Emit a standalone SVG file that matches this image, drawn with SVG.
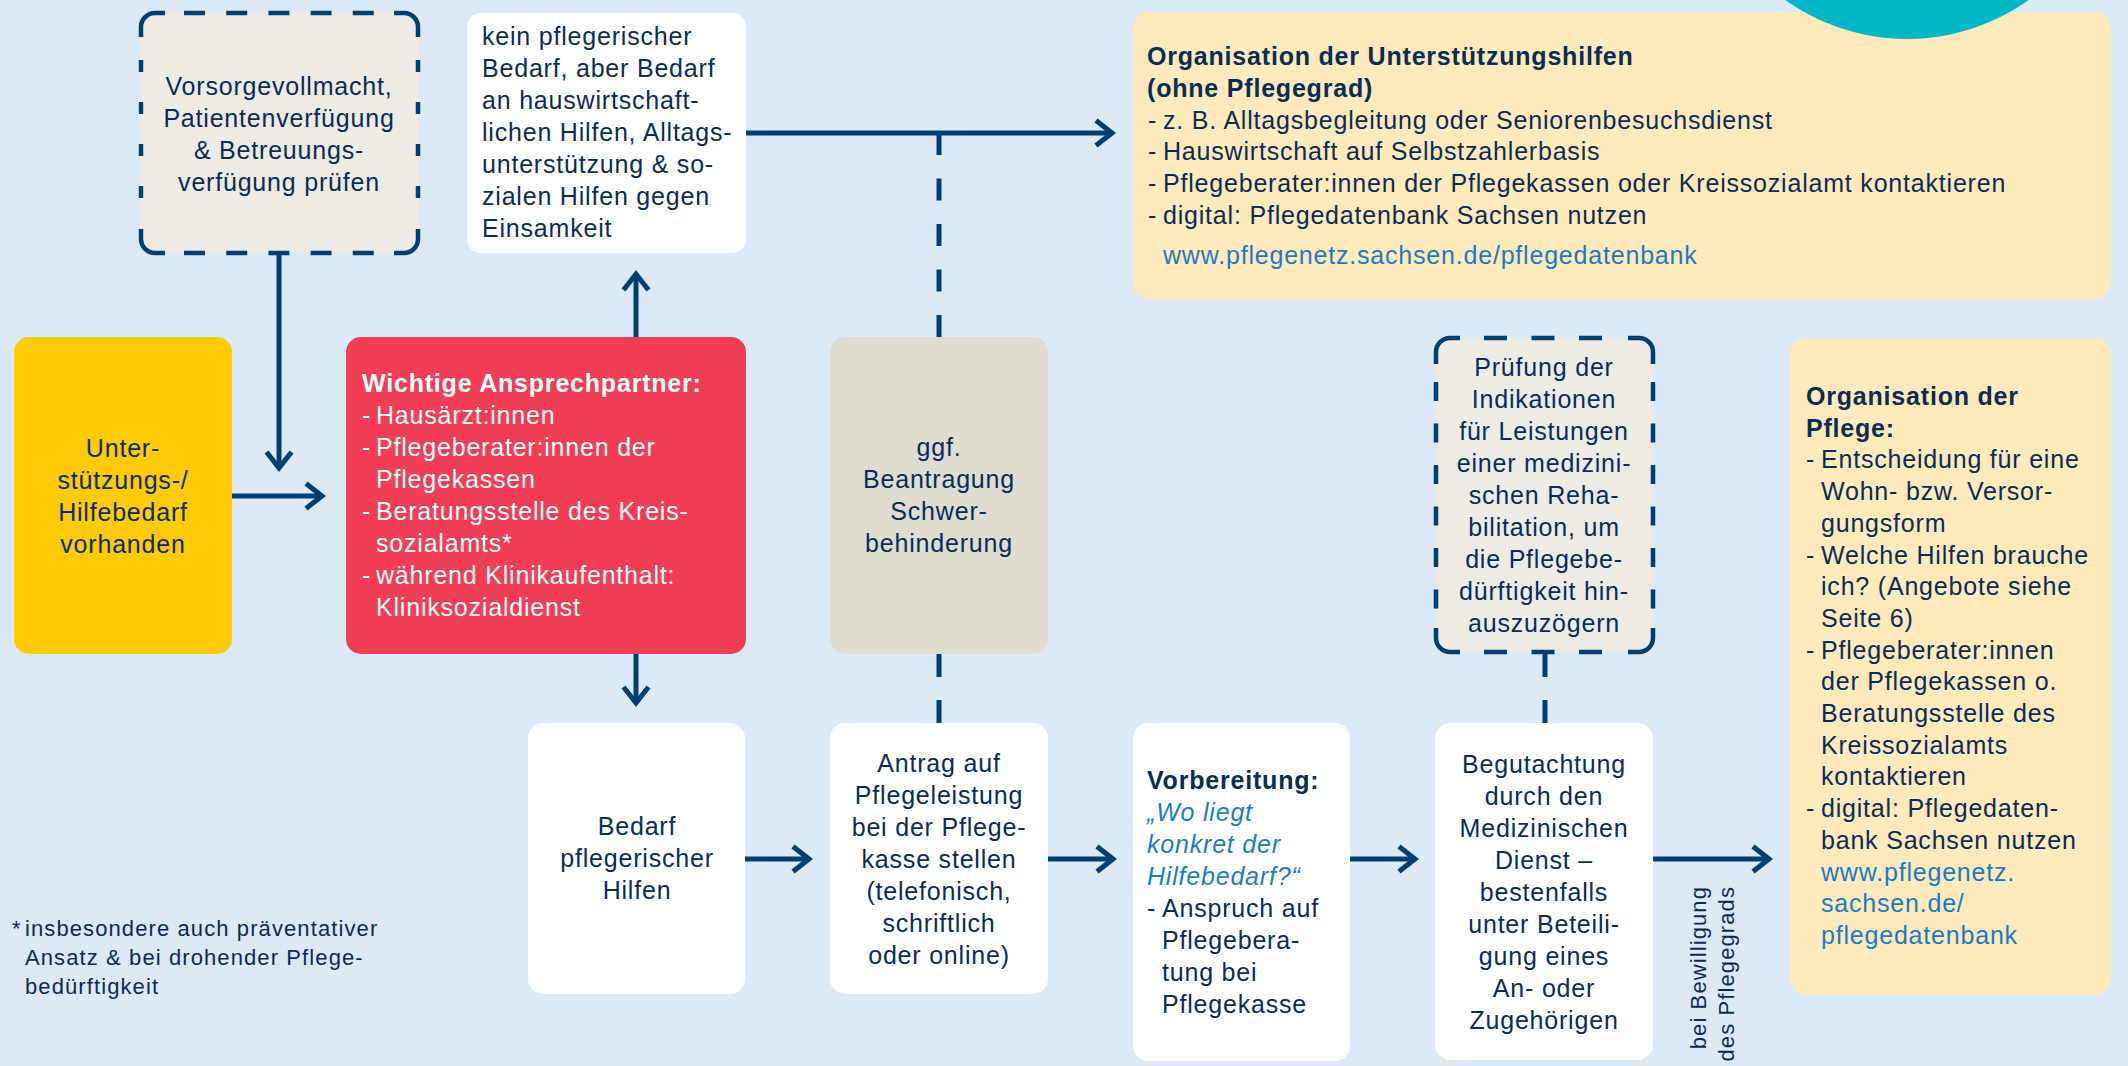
<svg xmlns="http://www.w3.org/2000/svg" width="2128" height="1066" viewBox="0 0 2128 1066">
<style>
.t{font-family:"Liberation Sans",Arial,Helvetica,sans-serif;font-size:25px;letter-spacing:0.8px;fill:#0A2C56}
.c{text-anchor:middle}
.b{font-weight:bold}
.w{fill:#FFFFFF}
.lk{fill:#1B7CC4}
.it{font-style:italic;fill:#1B7CC4}
.sm{font-size:22px;letter-spacing:1.1px}
.box{stroke:none}
.bd{fill:none;stroke:#003F73;stroke-width:4.5}
.con{fill:none;stroke:#003F73;stroke-width:5}
</style>
<defs>
<marker id="arr" markerUnits="userSpaceOnUse" markerWidth="30" markerHeight="34" refX="20" refY="15" orient="auto" overflow="visible">
<path d="M4,2.5 L20,15 L4,27.5" fill="none" stroke="#003F73" stroke-width="5"/>
</marker>
</defs>
<rect x="0" y="0" width="2128" height="1066" fill="#DCE9F6"/>

<g id="connectors">
<path class="con" d="M279,253 V468" marker-end="url(#arr)"/>
<path class="con" d="M232,496 H322" marker-end="url(#arr)"/>
<path class="con" d="M636,337 V274" marker-end="url(#arr)"/>
<path class="con" d="M746,133 H1112" marker-end="url(#arr)"/>
<path class="con" d="M939,133 V337" stroke-dasharray="22 23.5"/>
<path class="con" d="M939,654 V723" stroke-dasharray="23 23"/>
<path class="con" d="M636,654 V703" marker-end="url(#arr)"/>
<path class="con" d="M745,859 H809" marker-end="url(#arr)"/>
<path class="con" d="M1048,859 H1113" marker-end="url(#arr)"/>
<path class="con" d="M1350,859 H1415" marker-end="url(#arr)"/>
<path class="con" d="M1653,859 H1769" marker-end="url(#arr)"/>
<path class="con" d="M1545,652 V723" stroke-dasharray="25 23"/>
</g>

<g id="node-vorsorge">
<rect class="box" x="141" y="13" width="277" height="240" rx="14" fill="#EEEBE5"/>
<path class="bd" d="M141,37 V27 A14,14 0 0 1 155,13 H165 M394,13 H404 A14,14 0 0 1 418,27 V37 M418,229 V239 A14,14 0 0 1 404,253 H394 M165,253 H155 A14,14 0 0 1 141,239 V229"/>
<path class="bd" d="M184,13 H374 M184,253 H374" stroke-dasharray="21 21.2"/>
<path class="bd" d="M141,60 V199 M418,60 V199" stroke-dasharray="12 30"/>
<text class="t c" x="279" y="95">Vorsorgevollmacht,</text>
<text class="t c" x="279" y="127">Patientenverfügung</text>
<text class="t c" x="279" y="159">&amp; Betreuungs-</text>
<text class="t c" x="279" y="191">verfügung prüfen</text>
</g>

<g id="node-kein">
<rect class="box" x="467" y="13" width="279" height="240" rx="14" fill="#FFFFFF"/>
<text class="t" x="482" y="45">kein pflegerischer</text>
<text class="t" x="482" y="77">Bedarf, aber Bedarf</text>
<text class="t" x="482" y="109">an hauswirtschaft-</text>
<text class="t" x="482" y="141">lichen Hilfen, Alltags-</text>
<text class="t" x="482" y="173">unterstützung &amp; so-</text>
<text class="t" x="482" y="205">zialen Hilfen gegen</text>
<text class="t" x="482" y="237">Einsamkeit</text>
</g>

<g id="node-unterstuetzungshilfen">
<rect class="box" x="1133" y="12" width="978" height="287" rx="16" fill="#FEEABA"/>
<text class="t b" x="1147" y="65">Organisation der Unterstützungshilfen</text>
<text class="t b" x="1147" y="97">(ohne Pflegegrad)</text>
<text class="t" y="129"><tspan x="1148">-</tspan><tspan x="1163">z. B. Alltagsbegleitung oder Seniorenbesuchsdienst</tspan></text>
<text class="t" y="160"><tspan x="1148">-</tspan><tspan x="1163">Hauswirtschaft auf Selbstzahlerbasis</tspan></text>
<text class="t" y="192"><tspan x="1148">-</tspan><tspan x="1163">Pflegeberater:innen der Pflegekassen oder Kreissozialamt kontaktieren</tspan></text>
<text class="t" y="224"><tspan x="1148">-</tspan><tspan x="1163">digital: Pflegedatenbank Sachsen nutzen</tspan></text>
<text class="t lk" x="1163" y="264">www.pflegenetz.sachsen.de/pflegedatenbank</text>
</g>
<circle cx="1907" cy="-170" r="209" fill="#00B7C6"/>

<g id="node-bedarf-vorhanden">
<rect class="box" x="14" y="337" width="218" height="317" rx="15" fill="#FFCB05"/>
<text class="t c" x="123" y="457">Unter-</text>
<text class="t c" x="123" y="489">stützungs-/</text>
<text class="t c" x="123" y="521">Hilfebedarf</text>
<text class="t c" x="123" y="553">vorhanden</text>
</g>

<g id="node-ansprechpartner">
<rect class="box" x="346" y="337" width="400" height="317" rx="15" fill="#EF3E56"/>
<text class="t b w" x="362" y="392">Wichtige Ansprechpartner:</text>
<text class="t w" y="424"><tspan x="362">-</tspan><tspan x="376">Hausärzt:innen</tspan></text>
<text class="t w" y="456"><tspan x="362">-</tspan><tspan x="376">Pflegeberater:innen der</tspan></text>
<text class="t w" x="376" y="488">Pflegekassen</text>
<text class="t w" y="520"><tspan x="362">-</tspan><tspan x="376">Beratungsstelle des Kreis-</tspan></text>
<text class="t w" x="376" y="552">sozialamts*</text>
<text class="t w" y="584"><tspan x="362">-</tspan><tspan x="376">während Klinikaufenthalt:</tspan></text>
<text class="t w" x="376" y="616">Kliniksozialdienst</text>
</g>

<g id="node-schwerbehinderung">
<rect class="box" x="830" y="337" width="218" height="317" rx="15" fill="#E1DCD1"/>
<text class="t c" x="939" y="456">ggf.</text>
<text class="t c" x="939" y="488">Beantragung</text>
<text class="t c" x="939" y="520">Schwer-</text>
<text class="t c" x="939" y="552">behinderung</text>
</g>

<g id="node-pruefung">
<rect class="box" x="1436" y="338" width="217" height="314" rx="14" fill="#EEEBE5"/>
<path class="bd" d="M1436,364 V352 A14,14 0 0 1 1450,338 H1460 M1628,338 H1639 A14,14 0 0 1 1653,352 V364 M1653,628 V638 A14,14 0 0 1 1639,652 H1628 M1460,652 H1450 A14,14 0 0 1 1436,638 V628"/>
<path class="bd" d="M1484,338 H1606 M1484,652 H1606" stroke-dasharray="23 24.5"/>
<path class="bd" d="M1436,382 V609 M1653,382 V609" stroke-dasharray="19 22.5"/>
<text class="t c" x="1544" y="376">Prüfung der</text>
<text class="t c" x="1544" y="408">Indikationen</text>
<text class="t c" x="1544" y="440">für Leistungen</text>
<text class="t c" x="1544" y="472">einer medizini-</text>
<text class="t c" x="1544" y="504">schen Reha-</text>
<text class="t c" x="1544" y="536">bilitation, um</text>
<text class="t c" x="1544" y="568">die Pflegebe-</text>
<text class="t c" x="1544" y="600">dürftigkeit hin-</text>
<text class="t c" x="1544" y="632">auszuzögern</text>
</g>

<g id="node-organisation-pflege">
<rect class="box" x="1790" y="338" width="321" height="657" rx="16" fill="#FEEABA"/>
<text class="t b" x="1806" y="405">Organisation der</text>
<text class="t b" x="1806" y="436.7">Pflege:</text>
<text class="t" y="468.4"><tspan x="1806">-</tspan><tspan x="1821">Entscheidung für eine</tspan></text>
<text class="t" x="1821" y="500.1">Wohn- bzw. Versor-</text>
<text class="t" x="1821" y="531.8">gungsform</text>
<text class="t" y="563.5"><tspan x="1806">-</tspan><tspan x="1821">Welche Hilfen brauche</tspan></text>
<text class="t" x="1821" y="595.2">ich? (Angebote siehe</text>
<text class="t" x="1821" y="626.9">Seite 6)</text>
<text class="t" y="658.6"><tspan x="1806">-</tspan><tspan x="1821">Pflegeberater:innen</tspan></text>
<text class="t" x="1821" y="690.3">der Pflegekassen o.</text>
<text class="t" x="1821" y="722">Beratungsstelle des</text>
<text class="t" x="1821" y="753.7">Kreissozialamts</text>
<text class="t" x="1821" y="785.4">kontaktieren</text>
<text class="t" y="817.1"><tspan x="1806">-</tspan><tspan x="1821">digital: Pflegedaten-</tspan></text>
<text class="t" x="1821" y="848.8">bank Sachsen nutzen</text>
<text class="t lk" x="1821" y="880.5">www.pflegenetz.</text>
<text class="t lk" x="1821" y="912.2">sachsen.de/</text>
<text class="t lk" x="1821" y="943.9">pflegedatenbank</text>
</g>

<g id="node-bedarf-pflegerisch">
<rect class="box" x="528" y="723" width="217" height="271" rx="15" fill="#FFFFFF"/>
<text class="t c" x="637" y="835">Bedarf</text>
<text class="t c" x="637" y="867">pflegerischer</text>
<text class="t c" x="637" y="899">Hilfen</text>
</g>

<g id="node-antrag">
<rect class="box" x="830" y="723" width="218" height="271" rx="15" fill="#FFFFFF"/>
<text class="t c" x="939" y="772">Antrag auf</text>
<text class="t c" x="939" y="804">Pflegeleistung</text>
<text class="t c" x="939" y="836">bei der Pflege-</text>
<text class="t c" x="939" y="868">kasse stellen</text>
<text class="t c" x="939" y="900">(telefonisch,</text>
<text class="t c" x="939" y="932">schriftlich</text>
<text class="t c" x="939" y="964">oder online)</text>
</g>

<g id="node-vorbereitung">
<rect class="box" x="1133" y="723" width="217" height="338" rx="15" fill="#FFFFFF"/>
<text class="t b" x="1147" y="789">Vorbereitung:</text>
<text class="t it" x="1147" y="821">„Wo liegt</text>
<text class="t it" x="1147" y="853">konkret der</text>
<text class="t it" x="1147" y="885">Hilfebedarf?“</text>
<text class="t" y="917"><tspan x="1147">-</tspan><tspan x="1162">Anspruch auf</tspan></text>
<text class="t" x="1162" y="949">Pflegebera-</text>
<text class="t" x="1162" y="981">tung bei</text>
<text class="t" x="1162" y="1013">Pflegekasse</text>
</g>

<g id="node-begutachtung">
<rect class="box" x="1435" y="723" width="218" height="337" rx="15" fill="#FFFFFF"/>
<text class="t c" x="1544" y="773">Begutachtung</text>
<text class="t c" x="1544" y="805">durch den</text>
<text class="t c" x="1544" y="837">Medizinischen</text>
<text class="t c" x="1544" y="869">Dienst –</text>
<text class="t c" x="1544" y="901">bestenfalls</text>
<text class="t c" x="1544" y="933">unter Beteili-</text>
<text class="t c" x="1544" y="965">gung eines</text>
<text class="t c" x="1544" y="997">An- oder</text>
<text class="t c" x="1544" y="1029">Zugehörigen</text>
</g>

<g id="label-bewilligung">
<text class="t sm" text-anchor="end" transform="translate(1706,886) rotate(-90)">bei Bewilligung</text>
<text class="t sm" text-anchor="end" transform="translate(1734,886) rotate(-90)">des Pflegegrads</text>
</g>

<g id="footnote">
<text class="t sm" x="12" y="936">*</text>
<text class="t sm" x="25" y="936">insbesondere auch präventativer</text>
<text class="t sm" x="25" y="965">Ansatz &amp; bei drohender Pflege-</text>
<text class="t sm" x="25" y="994">bedürftigkeit</text>
</g>
</svg>
